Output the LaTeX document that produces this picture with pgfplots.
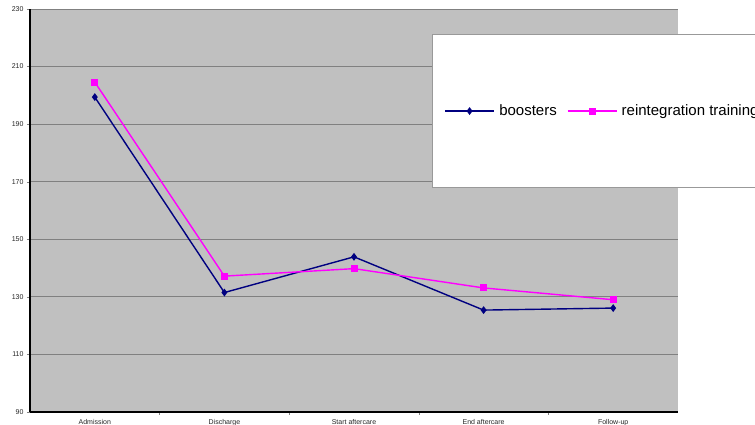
\documentclass[border=0pt]{standalone}
\usepackage{pgfplots}
\pgfplotsset{compat=1.18}
\usepackage{fontspec}
\setmainfont{Liberation Sans}
\definecolor{plotbg}{RGB}{192,192,192}
\definecolor{gridgray}{RGB}{128,128,128}
\definecolor{boost}{RGB}{0,0,128}
\definecolor{reint}{RGB}{255,0,255}

\begin{document}
\begin{tikzpicture}[x=1pt,y=1pt]
\clip (0,0) rectangle (755,425);
\begin{axis}[
  at={(30pt,13pt)}, anchor=south west,
  scale only axis, width=648pt, height=403pt,
  xmin=-0.5, xmax=4.5, ymin=90, ymax=230,
  axis lines=left, axis line style={-, black, line width=1.2pt},
  axis background/.style={fill=plotbg},
  xtick={0,1,2,3,4},
  xticklabels={Admission,Discharge,Start aftercare,End aftercare,Follow-up},
  minor xtick={0.5,1.5,2.5,3.5},
  major x tick style={draw=none},
  minor x tick style={gray, line width=0.4pt},
  ytick={90,110,...,230},
  ymajorgrids, grid style={gridgray, line width=0.8pt},
  tick align=outside, major tick length=3pt, minor tick length=3pt,
  y tick style={gray, line width=0.4pt},
  tick label style={font=\fontsize{7}{8}\selectfont, text=black!85},
  /pgf/number format/assume math mode=true,
  xticklabel style={yshift=-1pt},
  clip=false,
  legend columns=2,
  legend style={
    at={(0.6196,0.938)}, anchor=north west,
    draw=gray!80, fill=white, line width=0.8pt,
    font=\fontsize{15}{17}\selectfont,
    inner xsep=12.5pt, inner ysep=68.5pt,
    /tikz/every odd column/.append style={column sep=2.5pt},
    /tikz/every even column/.append style={column sep=8pt},
  },
  legend cell align=left,
  legend image code/.code={
    \draw[#1,mark repeat=2,mark phase=2] plot coordinates {(0pt,0pt)(24.5pt,0pt)(49pt,0pt)};
  },
]
\addplot[boost, line width=1.4pt, mark=diamond*, mark size=2.8pt, mark options={solid}]
  coordinates {(0,199.4) (1,131.5) (2,143.9) (3,125.4) (4,126.1)};
\addlegendentry{boosters}
\addplot[reint, line width=1.4pt, mark=square*, mark size=2.8pt, mark options={solid}]
  coordinates {(0,204.6) (1,137.2) (2,139.8) (3,133.1) (4,129.0)};
\addlegendentry{reintegration training}
\end{axis}
\end{tikzpicture}
\end{document}
